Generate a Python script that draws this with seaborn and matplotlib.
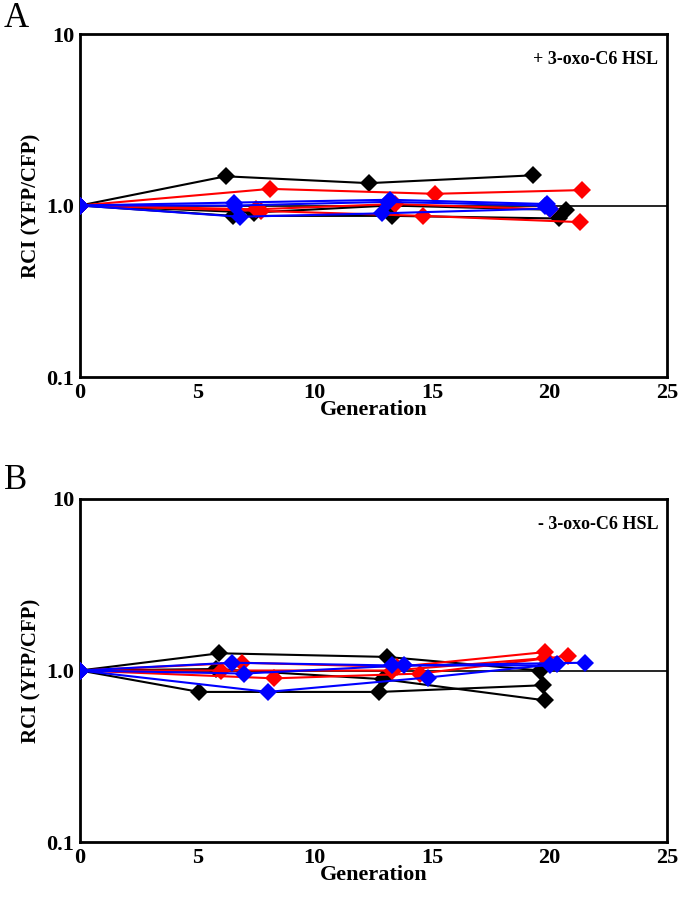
"""Relative competitive index over generations, two panels (+/- 3-oxo-C6 HSL)."""
import matplotlib
matplotlib.use("Agg")

import matplotlib.pyplot as plt
import matplotlib.ticker as mticker
import pandas as pd
import seaborn as sns

# Panel A (+ 3-oxo-C6 HSL): one generation/RCI list per competition run
A_COLORS = ["black", "black", "black", "red", "red", "red", "blue", "blue", "blue"]
A_GEN = [
    [0, 6.2, 12.3, 19.3],
    [0, 6.5, 13.3, 20.4],
    [0, 7.4, 13.2, 20.7],
    [0, 8.1, 15.1, 21.4],
    [0, 7.7, 14.6, 21.3],
    [0, 7.5, 13.4, 20.0],
    [0, 6.56, 13.2, 19.9],
    [0, 6.8, 12.85, 20.0],
    [0, 6.6, 13.1, 19.8],
]
A_RCI = [
    [1.0, 1.48, 1.35, 1.50],
    [1.0, 0.87, 0.87, 0.84],
    [1.0, 0.91, 1.00, 0.94],
    [1.0, 1.25, 1.17, 1.23],
    [1.0, 0.93, 0.87, 0.80],
    [1.0, 0.95, 1.02, 0.95],
    [1.0, 1.04, 1.08, 1.02],
    [1.0, 0.86, 0.90, 0.96],
    [1.0, 1.00, 1.05, 1.00],
]

# Panel B (- 3-oxo-C6 HSL)
B_COLORS = ["black", "black", "black", "red", "red", "red", "blue", "blue", "blue"]
B_GEN = [
    [0, 5.08, 12.75, 19.7],
    [0, 5.93, 13.06, 19.6],
    [0, 5.8, 12.9, 19.8],
    [0, 6.9, 13.5, 19.8],
    [0, 8.27, 14.5, 20.8],
    [0, 6.0, 13.3, 19.8],
    [0, 6.46, 13.3, 20.0],
    [0, 7.0, 13.8, 21.5],
    [0, 8.0, 14.8, 20.3],
]
B_RCI = [
    [1.0, 0.75, 0.75, 0.82],
    [1.0, 1.26, 1.20, 1.00],
    [1.0, 1.02, 0.89, 0.67],
    [1.0, 1.11, 1.05, 1.28],
    [1.0, 0.90, 0.96, 1.22],
    [1.0, 1.00, 1.00, 1.18],
    [1.0, 1.11, 1.07, 1.07],
    [1.0, 0.96, 1.07, 1.11],
    [1.0, 0.75, 0.91, 1.09],
]

X_TICKS = [0, 5, 10, 15, 20, 25]
Y_TICKS = [0.1, 1, 10]
Y_TICKLABELS = ["0.1", "1.0", "10"]

SERIF = ["Liberation Serif", "DejaVu Serif"]


def to_long(gens, rcis):
    rows = []
    for i, (g, r) in enumerate(zip(gens, rcis)):
        for x, y in zip(g, r):
            rows.append({"run": i, "gen": x, "rci": y})
    return pd.DataFrame(rows)


def draw_panel(ax, gens, rcis, colors, note):
    df = to_long(gens, rcis)
    palette = {i: c for i, c in enumerate(colors)}
    ax.axhline(1.0, color="black", lw=1.2, zorder=1)
    sns.lineplot(data=df, x="gen", y="rci", hue="run", palette=palette,
                 marker="D", markersize=9, markeredgewidth=0, lw=1.5,
                 estimator=None, sort=False, legend=False, ax=ax, zorder=3)
    ax.set_yscale("log")
    ax.set_xlim(0, 25)
    ax.set_ylim(0.1, 10)
    ax.set_xticks(X_TICKS)
    ax.set_yticks(Y_TICKS)
    ax.set_yticklabels(Y_TICKLABELS)
    ax.yaxis.set_minor_locator(mticker.NullLocator())
    ax.tick_params(direction="inout", length=6, width=1.5, labelsize=16,
                   pad=1, colors="black", labelcolor="black")
    for lab in ax.get_xticklabels() + ax.get_yticklabels():
        lab.set_fontweight("bold")
    for sp in ax.spines.values():
        sp.set_visible(True)
        sp.set_color("black")
        sp.set_linewidth(2)
    ax.set_xlabel("Generation", fontsize=16, fontweight="bold", labelpad=-2,
                  color="black")
    ax.set_ylabel("RCI (YFP/CFP)", fontsize=15, fontweight="bold", labelpad=4,
                  color="black")
    ax.text(0.985, 0.95, note, transform=ax.transAxes, ha="right", va="top",
            fontsize=13, fontweight="bold", color="black")


sns.set_theme(style="white")
plt.rcParams["font.family"] = SERIF
plt.rcParams["text.color"] = "black"

fig = plt.figure(figsize=(6.8, 8.99), dpi=100)
W, H = 680, 899
ax_a = fig.add_axes([80 / W, 1 - 377 / H, 587 / W, 343 / H])
ax_b = fig.add_axes([80 / W, 1 - 842 / H, 587 / W, 343 / H])

draw_panel(ax_a, A_GEN, A_RCI, A_COLORS, "+ 3-oxo-C6 HSL")
draw_panel(ax_b, B_GEN, B_RCI, B_COLORS, "- 3-oxo-C6 HSL")

fig.text(4 / W, 1 - 2 / H, "A", fontsize=25, va="top", ha="left", color="black")
fig.text(4 / W, 1 - 464 / H, "B", fontsize=25, va="top", ha="left", color="black")

fig.savefig("out.png", dpi=100)
